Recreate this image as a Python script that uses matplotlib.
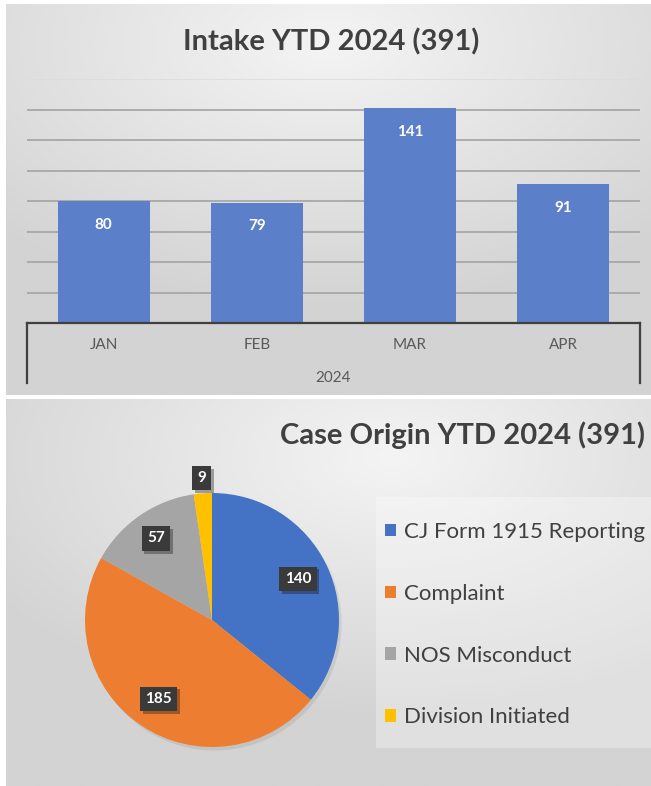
import numpy as np
import matplotlib
matplotlib.use("Agg")
import matplotlib.pyplot as plt
import matplotlib.patheffects as pe
from matplotlib.colors import LinearSegmentedColormap
from matplotlib.patches import Rectangle

plt.rcParams["font.family"] = ["Lato", "DejaVu Sans"]

# --- data -------------------------------------------------------------
months = ["JAN", "FEB", "MAR", "APR"]
year_label = "2024"
intake = [80, 79, 141, 91]
bar_title = "Intake YTD 2024 (391)"

origin_labels = ["CJ Form 1915 Reporting", "Complaint", "NOS Misconduct", "Division Initiated"]
origin_counts = [140, 185, 57, 9]
pie_title = "Case Origin YTD 2024 (391)"

W, H = 651, 786
fig = plt.figure(figsize=(W / 100, H / 100), dpi=100)
fig.patch.set_facecolor("white")

def px_axes(x0, y0, x1, y1, **kw):
    """axes from pixel box (top-left origin)."""
    return fig.add_axes([x0 / W, 1 - y1 / H, (x1 - x0) / W, (y1 - y0) / H], **kw)

gray_cmap = LinearSegmentedColormap.from_list("bg", ["#f4f4f4", "#d3d3d3"])

def gradient_panel(box, cx, cy):
    ax = px_axes(*box, zorder=0)
    xx, yy = np.meshgrid(np.linspace(0, 1, 300), np.linspace(0, 1, 300))
    d = np.sqrt((xx - cx) ** 2 + ((yy - cy) * 1.1) ** 2)
    ax.imshow(d, cmap=gray_cmap, extent=(0, 1, 0, 1), origin="upper",
              aspect="auto", vmin=0, vmax=0.75)
    ax.set_axis_off()
    return ax

gradient_panel((6, 4, 651, 395), 0.5, 0.1)
gradient_panel((6, 399, 651, 786), 0.6, 0.15)

# --- bar chart --------------------------------------------------------
ax = px_axes(27, 79, 640, 323, zorder=2)
ax.patch.set_alpha(0)
x = np.arange(len(months))
for yv in range(20, 161, 20):
    c = "#dcdcdc" if yv == 160 else "#a3a3a3"
    ax.axhline(yv, color=c, lw=1.2, zorder=1)
bars = ax.bar(x, intake, width=0.6, color="#5b80c9", zorder=2)
for b, v in zip(bars, intake):
    ax.annotate(str(v), (b.get_x() + b.get_width() / 2, v), xytext=(0, -17),
                textcoords="offset points", ha="center", va="center",
                color="white", fontsize=11, fontweight="bold")
ax.set_xlim(-0.5, 3.5)
ax.set_ylim(0, 160)
for s in ax.spines.values():
    s.set_visible(False)
ax.set_xticks([])
ax.set_yticks([])
ax.axhline(0, color="#404040", lw=1.6, zorder=3, clip_on=False)
for xe in (0, 1):
    ax.plot([xe, xe], [0, -0.246], transform=ax.transAxes, color="#404040",
            lw=1.6, clip_on=False)
for xi, m in zip(x, months):
    ax.text(xi, -0.09, m, transform=ax.get_xaxis_transform(), ha="center",
            va="center", fontsize=11, color="#595959")
ax.text(0.5, -0.225, year_label, transform=ax.transAxes, ha="center",
        va="center", fontsize=11, color="#595959")
fig.text(331 / W, 1 - 42 / H, bar_title, ha="center", va="center",
         fontsize=21, fontweight="bold", color="#404040")

# --- pie chart --------------------------------------------------------
pax = px_axes(85, 493, 339, 747, zorder=2)
colors = ["#4472c4", "#ed7d31", "#a5a5a5", "#ffc000"]
wedges, _ = pax.pie(origin_counts, colors=colors, startangle=90,
                    counterclock=False, radius=1,
                    wedgeprops=dict(linewidth=0),
                    shadow=dict(ox=0.015, oy=-0.02, shade=0.9, alpha=0.08))
pax.set_xlim(-1, 1)
pax.set_ylim(-1, 1)
pax.set_aspect("auto")
label_r = [0.75, 0.75, 0.78, 1.12]
for w, v, r in zip(wedges, origin_counts, label_r):
    ang = np.deg2rad((w.theta1 + w.theta2) / 2)
    t = pax.text(r * np.cos(ang), r * np.sin(ang), str(v), ha="center",
                 va="center", color="white", fontsize=11, fontweight="bold",
                 bbox=dict(boxstyle="square,pad=0.35", fc="#3a3a3a", ec="none"),
                 zorder=5)
    t.get_bbox_patch().set_path_effects(
        [pe.SimplePatchShadow(offset=(2, -2), alpha=0.35), pe.Normal()])

fig.text(645 / W, 1 - 435 / H, pie_title, ha="right", va="center",
         fontsize=21, fontweight="bold", color="#404040")

# legend backdrop
fig.patches.append(Rectangle((376 / W, 1 - 748 / H), 275 / W, 251 / H,
                             transform=fig.transFigure, fc="white",
                             alpha=0.3, ec="none", zorder=1))
leg = fig.legend(wedges, origin_labels, loc="upper left",
                 bbox_to_anchor=(385 / W, 1 - 522 / H), frameon=False,
                 fontsize=16, labelcolor="#404040",
                 handlelength=0.5, handleheight=0.5, handletextpad=0.36,
                 labelspacing=1.88, borderpad=0, borderaxespad=0)

fig.savefig("out.png", dpi=100)
